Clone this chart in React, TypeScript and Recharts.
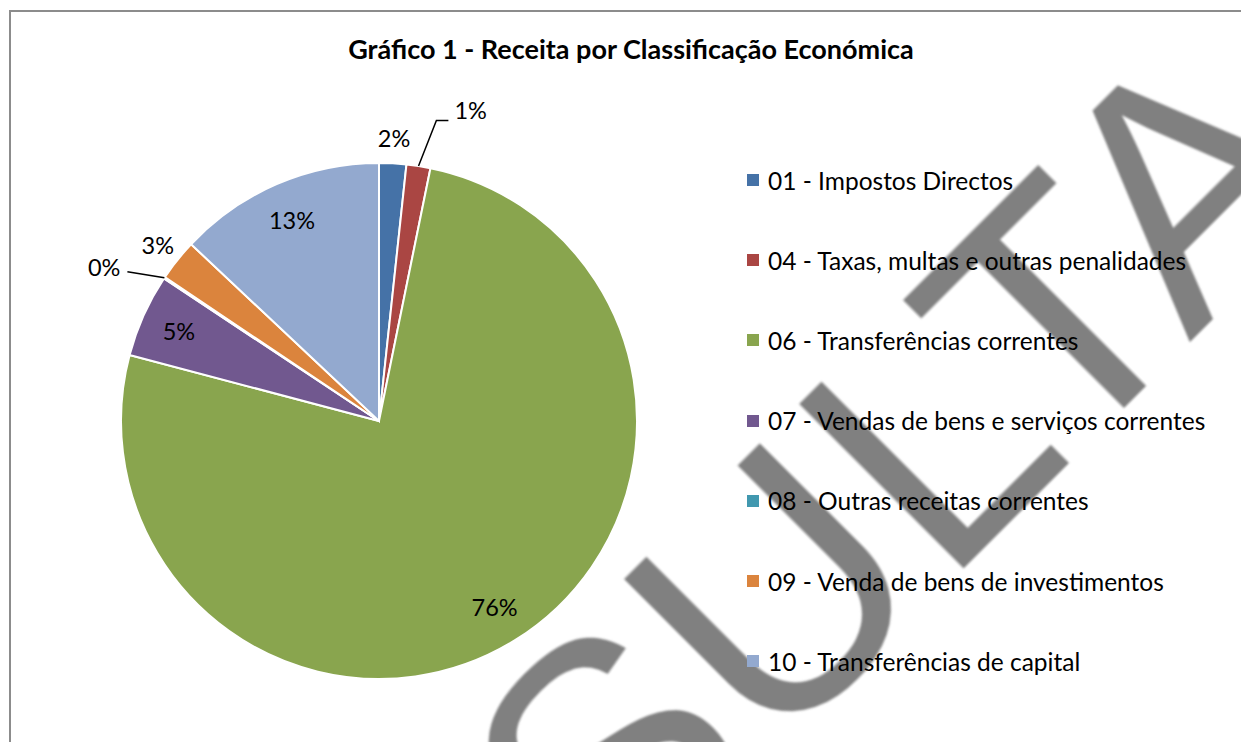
import { Cell, Legend, Pie, PieChart } from "recharts";

const categories = [
  "01 - Impostos Directos",
  "04 - Taxas, multas e outras penalidades",
  "06 - Transferências correntes",
  "07 - Vendas de bens e serviços correntes",
  "08 - Outras receitas correntes",
  "09 - Venda de bens de investimentos",
  "10 - Transferências de capital",
];
const shares = [1.7, 1.5, 76.0, 5.2, 0.1, 2.6, 13.0];
const colors = ["#4572A7", "#AA4643", "#89A54E", "#71588F", "#4198AF", "#DB843D", "#93A9CF"];
const title = "Gráfico 1 - Receita por Classificação Económica";
// visible part of the "CONSULTA" watermark
const watermarkLetters = ["S", "U", "L", "T", "A"];
// glyph origins along the watermark baseline, in px from the "L" corner
const watermarkOffsets = [-496, -270, -24, 143, 323];

const data = categories.map((name, i) => ({ name, value: shares[i] }));

const RAD = Math.PI / 180;
const FONT = "Lato, 'Open Sans', sans-serif";

function polar(cx: number, cy: number, r: number, angle: number) {
  return { x: cx + r * Math.cos(-angle * RAD), y: cy + r * Math.sin(-angle * RAD) };
}

function renderLabel(props: any) {
  const { cx, cy, midAngle, outerRadius, percent, index } = props;
  const text = `${Math.round(percent * 100)}%`;
  const style = { fontFamily: FONT, fontSize: 23.5, fill: "#000" };
  if (percent > 0.04) {
    const p = polar(cx, cy, outerRadius * 0.85, midAngle);
    return (
      <text key={index} x={p.x} y={p.y} textAnchor="middle" dominantBaseline="central" style={style}>
        {text}
      </text>
    );
  }
  if (percent < 0.005) {
    const a = polar(cx, cy, outerRadius, midAngle);
    return (
      <text key={index} x={a.x - 44} y={a.y - 11} textAnchor="end" dominantBaseline="central" style={style}>
        {text}
      </text>
    );
  }
  if (percent < 0.016) {
    const e = polar(cx, cy, outerRadius + 48, midAngle - 2);
    return (
      <text key={index} x={e.x + 18} y={e.y - 10} textAnchor="start" dominantBaseline="central" style={style}>
        {text}
      </text>
    );
  }
  const p = polar(cx, cy, outerRadius + 25, midAngle);
  return (
    <text key={index} x={p.x} y={p.y} textAnchor="middle" dominantBaseline="central" style={style}>
      {text}
    </text>
  );
}

function renderLabelLine(props: any) {
  const { cx, cy, midAngle, outerRadius, percent, index } = props;
  const a = polar(cx, cy, outerRadius, midAngle);
  if (percent < 0.005) {
    return <path key={index} d={`M${a.x},${a.y}L${a.x - 37},${a.y - 6}`} stroke="#000" strokeWidth={1.5} fill="none" />;
  }
  if (percent < 0.016) {
    const e = polar(cx, cy, outerRadius + 48, midAngle - 2);
    return (
      <path key={index} d={`M${a.x},${a.y}L${e.x},${e.y}L${e.x + 12},${e.y}`} stroke="#000" strokeWidth={1.5} fill="none" />
    );
  }
  return <g key={index} />;
}

function LegendList() {
  return (
    <div style={{ fontFamily: FONT, fontSize: 24.5, color: "#000" }}>
      {categories.map((name, i) => (
        <div key={name} style={{ height: 80.2, display: "flex", alignItems: "center" }}>
          <span style={{ width: 12, height: 12, background: colors[i], marginRight: 9, flex: "none" }} />
          <span style={{ whiteSpace: "nowrap" }}>{name}</span>
        </div>
      ))}
    </div>
  );
}

export default function App() {
  return (
    <div style={{ position: "fixed", left: 0, top: 0, width: 1241, height: 742, overflow: "hidden", background: "#fff" }}>
      <div
        style={{
          position: "absolute",
          left: 9,
          top: 10,
          width: 1400,
          height: 900,
          borderLeft: "2px solid #8c8c8c",
          borderTop: "2px solid #8c8c8c",
        }}
      />
      <svg width={1241} height={742} style={{ position: "absolute", left: 0, top: 0 }}>
        <defs>
          <filter id="wm-soft">
            <feGaussianBlur stdDeviation={1.2} />
          </filter>
        </defs>
        <g transform="translate(961,571) rotate(-45)" filter="url(#wm-soft)">
          {watermarkLetters.map((ch, i) => (
            <text
              key={i}
              x={watermarkOffsets[i]}
              y={0}
              style={{ fontFamily: "'Liberation Sans', Arial, sans-serif", fontSize: 338, fill: "#808080" }}
            >
              {ch}
            </text>
          ))}
        </g>
      </svg>
      <div
        style={{
          position: "absolute",
          left: 0,
          top: 32,
          width: 1262,
          textAlign: "center",
          fontFamily: FONT,
          fontWeight: 700,
          fontSize: 27,
          color: "#000",
        }}
      >
        {title}
      </div>
      <div style={{ position: "absolute", left: 0, top: 0 }}>
        <PieChart width={1241} height={742} margin={{ top: 0, right: 0, bottom: 0, left: 0 }}>
          <Pie
            data={data}
            dataKey="value"
            nameKey="name"
            cx={379}
            cy={421}
            outerRadius={258}
            startAngle={90}
            endAngle={-270}
            stroke="#fff"
            strokeWidth={2}
            isAnimationActive={false}
            label={renderLabel}
            labelLine={renderLabelLine}
          >
            {data.map((d, i) => (
              <Cell key={d.name} fill={colors[i]} />
            ))}
          </Pie>
          <Legend
            content={() => <LegendList />}
            wrapperStyle={{ position: "absolute", left: 747, top: 140, width: 490 }}
          />
        </PieChart>
      </div>
    </div>
  );
}
